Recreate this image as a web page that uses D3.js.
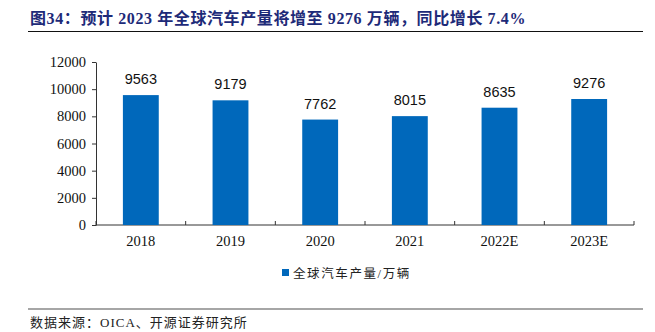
<!DOCTYPE html>
<html>
<head>
<meta charset="utf-8">
<script src="https://cdn.jsdelivr.net/npm/d3@7/dist/d3.min.js"></script>
<style>
  html, body { margin: 0; padding: 0; background: #fff; }
  svg { display: block; }
</style>
</head>
<body>
<script>
// Global vehicle production, 10k units
const categories = ["2018", "2019", "2020", "2021", "2022E", "2023E"];
const production = [9563, 9179, 7762, 8015, 8635, 9276];
const yTicks = [0, 2000, 4000, 6000, 8000, 10000, 12000];
const titleText = "图34：预计 2023 年全球汽车产量将增至 9276 万辆，同比增长 7.4%";
const legendText = "全球汽车产量/万辆";
const sourceText = "数据来源：OICA、开源证券研究所";

const W = 655, H = 332;
const margin = { left: 96, right: 21, top: 62, bottom: 107 };
const serif = "'Liberation Serif', 'Noto Sans CJK SC', serif";
const cjk = "'Liberation Serif', 'Noto Sans CJK SC', sans-serif";

const svg = d3.select("body").append("svg")
  .attr("width", W).attr("height", H);

// Title and rule
svg.append("text")
  .attr("x", 30).attr("y", 24)
  .attr("font-family", cjk)
  .attr("font-size", 16)
  .attr("font-weight", "bold")
  .attr("letter-spacing", 0.6)
  .attr("fill", "#1d2a78")
  .text(titleText);
svg.append("line")
  .attr("x1", 28).attr("x2", 643).attr("y1", 31.5).attr("y2", 31.5)
  .attr("stroke", "#111").attr("stroke-width", 1);

const x = d3.scaleBand()
  .domain(categories)
  .range([margin.left, W - margin.right])
  .paddingInner(0.6).paddingOuter(0.3);

const y = d3.scaleLinear()
  .domain([0, 12000])
  .range([H - margin.bottom, margin.top]);

// Y axis
const yAxis = svg.append("g")
  .attr("transform", `translate(${margin.left},0)`)
  .call(d3.axisLeft(y).tickValues(yTicks).tickSize(4).tickSizeOuter(0).tickPadding(6).tickFormat(d3.format("d")));
yAxis.select(".domain").attr("stroke", "#333");
yAxis.selectAll(".tick line").attr("stroke", "#333");
yAxis.selectAll("text")
  .attr("font-family", serif).attr("font-size", 14.5).attr("fill", "#111");

// X axis with ticks between categories
const x0 = margin.left, x1 = W - margin.right, step = x.step();
const base = y(0);
svg.append("line")
  .attr("x1", x0).attr("x2", x1).attr("y1", base).attr("y2", base)
  .attr("stroke", "#333").attr("stroke-width", 1);
const boundaries = d3.range(categories.length + 1).map(i => x0 + i * step);
svg.selectAll(".xtick").data(boundaries).join("line")
  .attr("class", "xtick")
  .attr("x1", d => d).attr("x2", d => d)
  .attr("y1", base).attr("y2", base - 4)
  .attr("stroke", "#333");
svg.selectAll(".xlabel").data(categories).join("text")
  .attr("class", "xlabel")
  .attr("x", d => x(d) + x.bandwidth() / 2)
  .attr("y", base + 21)
  .attr("text-anchor", "middle")
  .attr("font-family", serif).attr("font-size", 14.5).attr("fill", "#111")
  .text(d => d);

// Bars
svg.selectAll(".bar").data(categories).join("rect")
  .attr("class", "bar")
  .attr("x", d => x(d))
  .attr("width", x.bandwidth())
  .attr("y", (d, i) => y(production[i]))
  .attr("height", (d, i) => base - y(production[i]))
  .attr("fill", "#0068bb");

// Value labels
svg.selectAll(".val").data(categories).join("text")
  .attr("class", "val")
  .attr("x", d => x(d) + x.bandwidth() / 2)
  .attr("y", (d, i) => y(production[i]) - 11)
  .attr("text-anchor", "middle")
  .attr("font-family", "'Liberation Sans', Arial, sans-serif")
  .attr("font-size", 14.5).attr("fill", "#111")
  .text((d, i) => production[i]);

// Legend
svg.append("rect")
  .attr("x", 282).attr("y", 269).attr("width", 7).attr("height", 7)
  .attr("fill", "#0068bb");
svg.append("text")
  .attr("x", 293).attr("y", 278)
  .attr("font-family", cjk).attr("font-size", 12.5)
  .attr("letter-spacing", 1.6)
  .attr("fill", "#222")
  .text(legendText);

// Source rule and note
svg.append("line")
  .attr("x1", 28).attr("x2", 643).attr("y1", 309).attr("y2", 309)
  .attr("stroke", "#888").attr("stroke-width", 1.5);
svg.append("text")
  .attr("x", 30).attr("y", 327)
  .attr("font-family", cjk).attr("font-size", 13)
  .attr("letter-spacing", 1.0)
  .attr("fill", "#222")
  .text(sourceText);
</script>
</body>
</html>
